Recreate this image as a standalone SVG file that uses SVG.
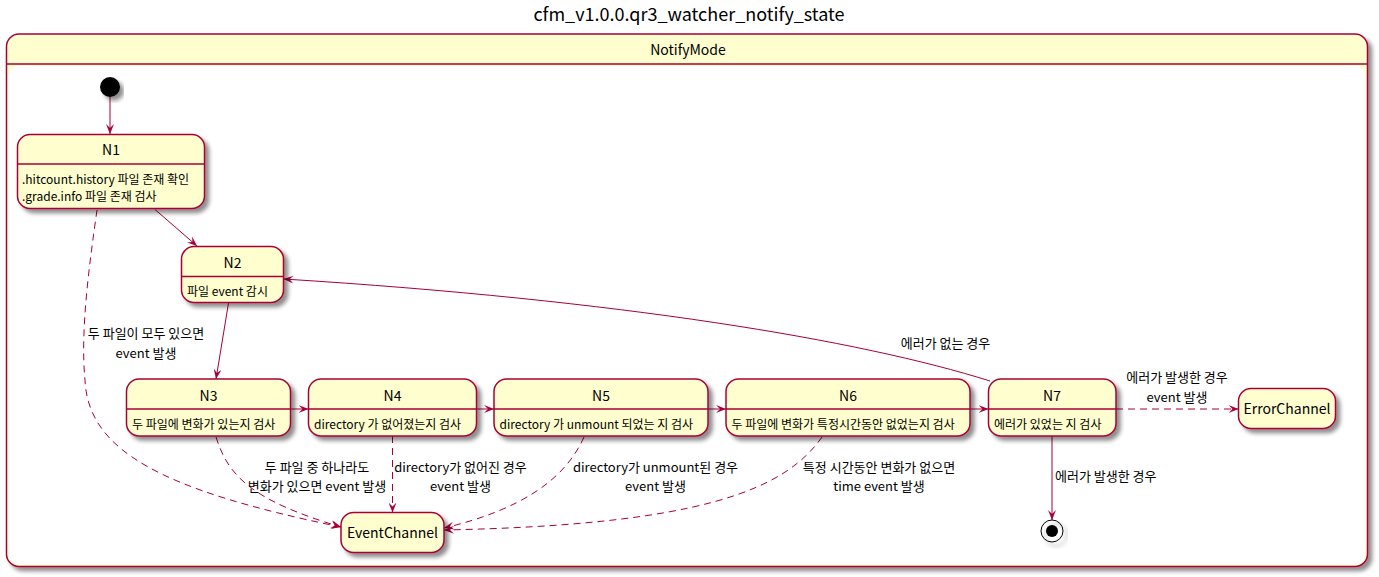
<svg xmlns="http://www.w3.org/2000/svg" width="1379" height="577" viewBox="0 0 1379 577">
<style>
text{font-family:"Noto Sans CJK KR","Noto Sans",sans-serif;fill:#000}
.title{font-size:18px;text-anchor:middle}
.hdr{font-size:14px;text-anchor:middle}
.nm{font-size:14px;text-anchor:middle}
.ds{font-size:12px}
.lb{font-size:13px}
.c{text-anchor:middle}
.box{fill:#FEFECE;stroke:#A80036;stroke-width:1.5}
.sep{stroke:#A80036;stroke-width:1.5}
.e{fill:none;stroke:#A80036;stroke-width:1;marker-end:url(#ah)}
.d{stroke-dasharray:7,5}
</style>
<defs>
<filter id="sh" x="-10%" y="-10%" width="130%" height="140%">
<feGaussianBlur in="SourceAlpha" stdDeviation="2"/>
<feOffset dx="4" dy="4" result="o"/>
<feComponentTransfer><feFuncA type="linear" slope="0.45"/></feComponentTransfer>
<feMerge><feMergeNode/><feMergeNode in="SourceGraphic"/></feMerge>
</filter>
<marker id="ah" viewBox="0 0 10 8" markerWidth="10" markerHeight="8" refX="10" refY="4" orient="auto" markerUnits="userSpaceOnUse">
<path d="M0,0 L10,4 L0,8 L4,4 Z" fill="#A80036"/>
</marker>
</defs>
<rect width="1379" height="577" fill="#fff"/>
<text class="title" x="689" y="21">cfm_v1.0.0.qr3_watcher_notify_state</text>

<g id="NotifyMode">
<rect class="box" x="6.5" y="34" width="1361" height="532.5" rx="12.5" filter="url(#sh)"/>
<rect x="8.5" y="66" width="1357" height="498.5" rx="10.5" fill="#fff"/>
<line class="sep" x1="6.5" y1="64" x2="1367.5" y2="64"/>
<text class="hdr" x="688" y="55">NotifyMode</text>
</g>

<g id="connectors">
<line class="e" x1="110" y1="97" x2="110" y2="134"/>
<line class="e" x1="155" y1="209.5" x2="197" y2="246"/>
<path class="e d" d="M97,210 C90,260 80,330 85,380 C88,450 160,490 341,527"/>
<line class="e" x1="228.5" y1="303" x2="216" y2="379"/>
<line class="e" x1="290.5" y1="409" x2="308.5" y2="409"/>
<line class="e" x1="476.5" y1="409" x2="494" y2="409"/>
<line class="e" x1="708" y1="409" x2="726" y2="409"/>
<line class="e" x1="970" y1="409" x2="988.5" y2="409"/>
<path class="e" d="M990,381 C860,340 620,300 283.5,279"/>
<line class="e d" x1="1116" y1="409" x2="1238.5" y2="409"/>
<line class="e" x1="1052" y1="436" x2="1052" y2="520"/>
<path class="e d" d="M216,437 C228,475 250,500 341,527"/>
<line class="e d" x1="392.5" y1="436" x2="392.5" y2="512.5"/>
<path class="e d" d="M584,437 C565,480 520,510 444,528"/>
<path class="e d" d="M822,437 C785,490 700,525 444,530"/>
<text class="lb c" x="146" y="338">두 파일이 모두 있으면</text>
<text class="lb c" x="146" y="357.5">event 발생</text>
<text class="lb c" x="317" y="472">두 파일 중 하나라도</text>
<text class="lb c" x="317" y="491">변화가 있으면 event 발생</text>
<text class="lb c" x="460.5" y="472">directory가 없어진 경우</text>
<text class="lb c" x="460.5" y="491">event 발생</text>
<text class="lb c" x="655.5" y="472">directory가 unmount된 경우</text>
<text class="lb c" x="655.5" y="491">event 발생</text>
<text class="lb c" x="879" y="472">특정 시간동안 변화가 없으면</text>
<text class="lb c" x="879" y="491">time event 발생</text>
<text class="lb c" x="945.5" y="347.5">에러가 없는 경우</text>
<text class="lb c" x="1177" y="382">에러가 발생한 경우</text>
<text class="lb c" x="1177" y="401.5">event 발생</text>
<text class="lb" x="1055" y="481">에러가 발생한 경우</text>
</g>

<g id="start"><circle cx="110" cy="87" r="10" fill="#000" filter="url(#sh)"/></g>

<g id="N1">
<rect class="box" x="17.5" y="134.5" width="187" height="74" rx="12.5" filter="url(#sh)"/>
<line class="sep" x1="17.5" y1="164" x2="204.5" y2="164"/>
<text class="nm" x="111" y="155">N1</text>
<text class="ds" x="22" y="183.5">.hitcount.history 파일 존재 확인</text>
<text class="ds" x="22" y="200.5">.grade.info 파일 존재 검사</text>
</g>

<g id="N2">
<rect class="box" x="181.5" y="246.5" width="102" height="56" rx="12.5" filter="url(#sh)"/>
<line class="sep" x1="181.5" y1="276.5" x2="283.5" y2="276.5"/>
<text class="nm" x="232.5" y="267.5">N2</text>
<text class="ds" x="187" y="295.5">파일 event 감시</text>
</g>

<g id="N3">
<rect class="box" x="126.5" y="379" width="164" height="57" rx="12.5" filter="url(#sh)"/>
<line class="sep" x1="126.5" y1="409" x2="290.5" y2="409"/>
<text class="nm" x="208.5" y="400.5">N3</text>
<text class="ds" x="132" y="429">두 파일에 변화가 있는지 검사</text>
</g>

<g id="N4">
<rect class="box" x="308.5" y="379" width="168" height="57" rx="12.5" filter="url(#sh)"/>
<line class="sep" x1="308.5" y1="409" x2="476.5" y2="409"/>
<text class="nm" x="392.5" y="400.5">N4</text>
<text class="ds" x="314" y="429">directory 가 없어졌는지 검사</text>
</g>

<g id="N5">
<rect class="box" x="494" y="379" width="214" height="57" rx="12.5" filter="url(#sh)"/>
<line class="sep" x1="494" y1="409" x2="708" y2="409"/>
<text class="nm" x="601" y="400.5">N5</text>
<text class="ds" x="499.5" y="429">directory 가 unmount 되었는 지 검사</text>
</g>

<g id="N6">
<rect class="box" x="726" y="379" width="244" height="57" rx="12.5" filter="url(#sh)"/>
<line class="sep" x1="726" y1="409" x2="970" y2="409"/>
<text class="nm" x="848" y="400.5">N6</text>
<text class="ds" x="731.5" y="429">두 파일에 변화가 특정시간동안 없었는지 검사</text>
</g>

<g id="N7">
<rect class="box" x="988.5" y="379" width="127.5" height="57" rx="12.5" filter="url(#sh)"/>
<line class="sep" x1="988.5" y1="409" x2="1116" y2="409"/>
<text class="nm" x="1052" y="400.5">N7</text>
<text class="ds" x="994" y="429">에러가 있었는 지 검사</text>
</g>

<g id="EventChannel">
<rect class="box" x="341" y="512.5" width="103" height="40" rx="12.5" filter="url(#sh)"/>
<text class="nm" x="392.5" y="537.5">EventChannel</text>
</g>

<g id="ErrorChannel">
<rect class="box" x="1238.5" y="388.5" width="97" height="40" rx="12.5" filter="url(#sh)"/>
<text class="nm" x="1287" y="414">ErrorChannel</text>
</g>

<g id="end">
<circle cx="1052" cy="531" r="11" fill="none" stroke="#000" stroke-width="1" filter="url(#sh)"/>
<circle cx="1052" cy="531" r="6" fill="#000"/>
</g>
</svg>
